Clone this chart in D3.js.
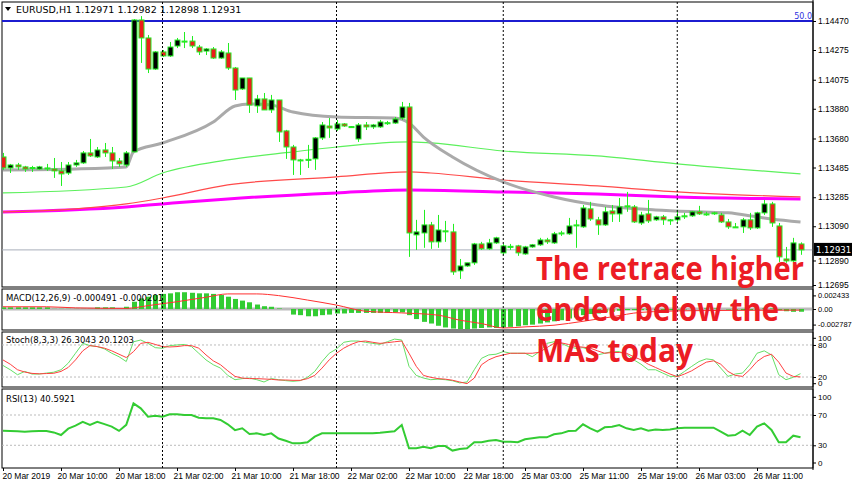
<!DOCTYPE html>
<html>
<head>
<meta charset="utf-8">
<script src="https://cdn.jsdelivr.net/npm/d3@7"></script>
<style>
  body { margin: 0; background: #fff; }
  svg { display: block; font-family: "DejaVu Sans", sans-serif; }
</style>
</head>
<body>
<svg id="chart" width="852" height="485"></svg>
<script>
// EURUSD H1, bars 20 Mar 02:00 .. 26 Mar 16:00
const opens = [1.13556,1.13482,1.13502,1.13489,1.13482,1.13475,1.13482,1.13475,1.13462,1.13448,1.13502,1.13516,1.13583,1.13556,1.13603,1.13583,1.13529,1.13502,1.13590,1.14477,
  1.14356,1.14147,1.14262,1.14235,1.14302,1.14335,1.14335,1.14295,1.14268,1.14282,1.14221,1.14255,1.14154,1.14013,1.14087,1.13899,1.13946,1.13872,1.13939,1.13731,
  1.13623,1.13536,1.13536,1.13543,1.13684,1.13764,1.13744,1.13778,1.13758,1.13677,1.13771,1.13758,1.13758,1.13784,1.13784,1.13818,1.13892,1.13032,1.13045,1.13099,
  1.12985,1.13059,1.13052,1.12790,1.12823,1.12844,1.12971,1.12938,1.12978,1.12911,1.12951,1.12958,1.12904,1.12951,1.12965,1.12998,1.12978,1.13045,1.13039,1.13099,
  1.13086,1.13207,1.13133,1.13099,1.13193,1.13173,1.13227,1.13220,1.13112,1.13173,1.13133,1.13153,1.13133,1.13133,1.13160,1.13160,1.13187,1.13173,1.13180,1.13166,
  1.13119,1.13086,1.13086,1.13133,1.13079,1.13180,1.13240,1.13092,1.12870,1.12857,1.12971];
const highs = [1.13583,1.13509,1.13516,1.13496,1.13496,1.13496,1.13509,1.13549,1.13522,1.13522,1.13536,1.13596,1.13677,1.13623,1.13650,1.13623,1.13549,1.13596,1.14483,1.14503,
  1.14376,1.14268,1.14275,1.14329,1.14356,1.14396,1.14369,1.14309,1.14288,1.14295,1.14275,1.14322,1.14161,1.14087,1.14087,1.13973,1.13986,1.13973,1.13939,1.13738,
  1.13637,1.13543,1.13637,1.13690,1.13791,1.13818,1.13805,1.13784,1.13764,1.13784,1.13791,1.13778,1.13805,1.13798,1.13825,1.13926,1.13919,1.13133,1.13200,1.13119,
  1.13166,1.13126,1.13106,1.12870,1.12844,1.12978,1.12985,1.13005,1.13019,1.12971,1.12971,1.12965,1.12958,1.12971,1.13012,1.13012,1.13052,1.13059,1.13146,1.13133,
  1.13233,1.13254,1.13153,1.13220,1.13233,1.13280,1.13321,1.13233,1.13187,1.13267,1.13160,1.13166,1.13139,1.13200,1.13180,1.13193,1.13227,1.13187,1.13187,1.13180,
  1.13139,1.13112,1.13146,1.13180,1.13187,1.13267,1.13254,1.13112,1.12951,1.13012,1.12982];
const lows = [1.13469,1.13448,1.13469,1.13455,1.13455,1.13469,1.13462,1.13415,1.13361,1.13435,1.13489,1.13509,1.13556,1.13549,1.13556,1.13475,1.13489,1.13489,1.13590,1.14188,
  1.14120,1.14141,1.14228,1.14228,1.14288,1.14288,1.14288,1.14241,1.14241,1.14215,1.14215,1.14141,1.13939,1.14006,1.13852,1.13852,1.13872,1.13852,1.13657,1.13543,
  1.13435,1.13435,1.13482,1.13469,1.13670,1.13684,1.13731,1.13758,1.13751,1.13657,1.13737,1.13744,1.13751,1.13771,1.13778,1.13805,1.12884,1.12931,1.12945,1.12938,
  1.12945,1.12985,1.12763,1.12736,1.12817,1.12830,1.12931,1.12931,1.12971,1.12898,1.12931,1.12891,1.12898,1.12945,1.12958,1.12971,1.12971,1.13025,1.13032,1.12945,
  1.13079,1.13126,1.13032,1.13092,1.13119,1.13119,1.13187,1.13112,1.13099,1.13112,1.13126,1.13099,1.13099,1.13119,1.13139,1.13153,1.13166,1.13160,1.13166,1.13112,
  1.13072,1.13079,1.13045,1.13065,1.13072,1.13166,1.13086,1.12850,1.12844,1.12850,1.12898];
const closes = [1.13482,1.13502,1.13489,1.13475,1.13485,1.13489,1.13480,1.13462,1.13442,1.13502,1.13516,1.13583,1.13563,1.13603,1.13583,1.13529,1.13509,1.13583,1.14477,1.14356,
  1.14147,1.14262,1.14235,1.14295,1.14342,1.14329,1.14302,1.14262,1.14282,1.14221,1.14262,1.14154,1.14006,1.14087,1.13905,1.13946,1.13872,1.13939,1.13724,1.13623,
  1.13536,1.13530,1.13540,1.13684,1.13771,1.13751,1.13778,1.13764,1.13760,1.13771,1.13758,1.13771,1.13791,1.13786,1.13811,1.13892,1.13045,1.13052,1.13099,1.12985,
  1.13065,1.13055,1.12783,1.12823,1.12844,1.12971,1.12938,1.12978,1.13012,1.12958,1.12955,1.12911,1.12951,1.12965,1.12998,1.12985,1.13039,1.13042,1.13092,1.13095,
  1.13213,1.13139,1.13099,1.13187,1.13173,1.13220,1.13223,1.13119,1.13166,1.13126,1.13153,1.13133,1.13130,1.13153,1.13157,1.13187,1.13173,1.13170,1.13178,1.13119,
  1.13086,1.13083,1.13133,1.13079,1.13180,1.13240,1.13112,1.12884,1.12857,1.12978,1.12931];

// moving averages, read at these bars
const grayMaBars = [0,10,17,18,22,29,32,34,37,40,46,54,56,58,62,69,76,82,90,96,100,104,106,110];
const grayMa = [1.13469,1.13475,1.13489,1.13590,1.13650,1.13791,1.13899,1.13912,1.13905,1.13858,1.13825,1.13818,1.13784,1.13690,1.13556,1.13388,1.13287,1.13233,1.13200,1.13187,1.13180,1.13153,1.13139,1.13119];
const greenMaBars = [0,17,22,31,40,46,56,59,69,82,93,110];
const greenMa = [1.13314,1.13354,1.13448,1.13536,1.13590,1.13623,1.13657,1.13650,1.13596,1.13563,1.13509,1.13442];
const redMaBars = [0,5,10,17,22,31,46,56,59,69,82,93,110];
const redMa = [1.13186,1.13193,1.13207,1.13240,1.13280,1.13368,1.13422,1.13455,1.13448,1.13401,1.13361,1.13321,1.13287];
const magentaMaBars = [0,17,22,31,46,56,69,82,93,110];
const magentaMa = [1.13186,1.13220,1.13240,1.13274,1.13314,1.13334,1.13321,1.13307,1.13287,1.13274];

const priceTicks = [1.14470,1.14275,1.14075,1.13880,1.13680,1.13485,1.13285,1.13090,1.12890,1.12695];
const levelPrice = 1.14470;
const lastPrice = 1.12931;

const macdHist = [0.0003,0.0003,0.0003,0.0003,0.0003,0.0003,0.0003,0.00003,0.00003,0.00003,0.00003,0.00003,0.00003,0.0003,0.0003,0.0003,0.00003,0.0004,0.0013,0.0019,
  0.0022,0.0025,0.0027,0.0028,0.0030,0.0030,0.0029,0.0028,0.0028,0.0027,0.0025,0.0022,0.0018,0.0015,0.0012,0.0008,0.0005,0.0004,0.0001,0.0000,
  -0.0010,-0.0011,-0.0013,-0.0013,-0.0011,-0.0010,-0.0008,-0.0008,-0.0007,-0.0007,-0.0007,-0.0007,-0.0007,-0.0007,-0.0006,-0.0006,-0.0011,-0.0018,-0.0023,-0.0026,
  -0.0030,-0.0033,-0.0035,-0.0036,-0.0036,-0.0035,-0.0034,-0.0033,-0.0034,-0.0033,-0.0032,-0.0031,-0.0029,-0.0028,-0.0026,-0.0024,-0.0022,-0.0020,-0.0017,-0.0015,
  -0.0011,-0.0009,-0.0008,-0.0006,-0.0005,-0.0003,-0.0002,-0.0002,-0.0002,-0.0002,-0.0002,-0.0002,-0.0002,-0.0001,-0.0001,0.0000,0.0000,0.0001,0.0001,0.0000,
  -0.0001,-0.0002,-0.0002,-0.0002,-0.0001,0.0001,0.0001,-0.0002,-0.0004,-0.0005,-0.00049];
const macdSignalBars = [0,6,10,17,20,24,28,31,35,38,42,46,50,55,60,63,66,69,72,76,80,84,88,95,110];
const macdSignal = [0.0004,0.0004,0.0002,0.0001,0.0006,0.0013,0.0021,0.0027,0.0027,0.0024,0.0016,0.0007,-0.0004,-0.0007,-0.0011,-0.0020,-0.0026,-0.0034,-0.0032,-0.0029,-0.0022,-0.0014,-0.0006,-0.0003,-0.0002];
const macdTicks = [0.002433, 0, -0.002787];

const stochMain = [41.6,33.6,24.3,30.5,25.6,25.6,27.4,29,33.6,46,64.5,83,78.8,77,72.6,64.5,58,49,86,89.3,
  83,75,73.8,78.8,80,81,77,64.5,52,43,36.7,23,15,17,18,15,10.7,17,15,13.2,
  12,13.2,19.4,30.5,49,64.5,72.6,85,87.4,87.4,85,83,81.2,86,91,89.3,40,23,18,15,
  16,15,13,9,10.7,33.6,55,61.4,62.7,67.6,64.5,64.5,64.5,58,67.6,83,86,83,77,73.8,
  75,70.7,61.4,64.5,67.6,67.6,62.7,52.2,44,33.6,33.6,27.4,21.2,21.2,30.5,40,49,54,52.2,36.7,
  21.2,25.6,27.4,43,64.5,69,61.4,24.3,15,19.4,26.3];
const stochSignal = [52,44,33.6,29.3,26.8,26,26.5,27,30.5,38,52,69,78.8,77,74,69,62.7,56.5,67.6,83,
  85,81,77,76.3,77,78.8,78.8,74,61.4,50.3,43,31.7,21.2,18,17,17,16.3,15.7,14.4,14.4,
  13.8,13.8,17,23,36.7,52.2,64.5,74,81,86,87.4,85,83,84.3,86,87.4,64.5,40,23,19.4,
  17,16,14,10.7,7.6,18,43,52.2,58,61.4,64.5,64.5,64.5,64.5,66.4,75,83,84,81,77,
  76,74,69,64.5,65.8,66,64.5,58,52.2,44,37.9,31.7,25.6,20.6,25.6,31.7,40,47.8,50.3,44,
  30.5,23,21.2,33.6,49,58.4,62.7,47.8,27.4,21.2,20.1];

const rsi = [49.3,48.8,48.4,48,48.4,48.8,49,47,43.6,52,56,61,57,61,58,54.6,49,57,85.4,78.8,
  67.8,69,67.8,71,71,70,70,66.5,65.6,65.6,63.4,57.7,50,52.4,45,45.8,43.6,45.8,39,36,
  32.6,32.6,34,41.4,45.8,45.8,45.8,45.8,45.8,45.8,45.8,45.8,46.5,47.5,48.6,56.8,26,26,28.2,26,
  29,29,23,25,26,34,34,36,37,34.8,34.8,34,37.9,39.2,40.5,40.5,44.5,45.8,48.9,49.3,
  57.7,52.4,48,53.7,54.6,56.8,52.4,50.2,52.4,49.3,51,50.2,51,52.4,53.3,53.3,53.3,53.3,53.3,48,
  42.7,43.6,49.3,43.6,54.6,59,50.2,34,34,42.7,40.59];

const separatorBars = [22, 46, 69, 93];
const dateTickBars = [0,8,16,24,32,40,48,56,64,72,80,88,96,104];
const dateTickLabels = ["20 Mar 2019","20 Mar 10:00","20 Mar 18:00","21 Mar 02:00","21 Mar 10:00","21 Mar 18:00",
  "22 Mar 02:00","22 Mar 10:00","22 Mar 18:00","25 Mar 03:00","25 Mar 11:00","25 Mar 19:00","26 Mar 03:00","26 Mar 11:00"];

const header = "EURUSD,H1  1.12971 1.12982 1.12898 1.12931";
const noteLines = ["The retrace higher", "ended below the", "MAs today"];

const svg = d3.select('#chart');
const plotL = 2, plotR = 813;
const panels = {
  main: [2, 287], macd: [289, 330], stoch: [332, 387], rsi: [389, 468]
};

const x = d3.scaleLinear().domain([0, closes.length - 1]).range([3, 800.5]);
const yP = d3.scaleLinear().domain([1.12695, 1.14470]).range([285, 21]);
const yM = d3.scaleLinear().domain([0, 0.002433]).range([309, 295.4]);
const yS = d3.scaleLinear().domain([0, 100]).range([387.7, 334.3]);
const yR = d3.scaleLinear().domain([0, 100]).range([468, 392.3]);

// panel frames
Object.values(panels).forEach(([t, b]) => {
  svg.append('rect').attr('x', plotL).attr('y', t).attr('width', plotR - plotL).attr('height', b - t)
    .attr('fill', 'none').attr('stroke', '#000').attr('stroke-width', 1);
});

function clip(id, [t, b]) {
  svg.append('clipPath').attr('id', id).append('rect')
    .attr('x', plotL).attr('y', t).attr('width', plotR - plotL).attr('height', b - t);
  return svg.append('g').attr('clip-path', `url(#${id})`);
}
const gMain = clip('cMain', panels.main);
const gMacd = clip('cMacd', panels.macd);
const gStoch = clip('cStoch', panels.stoch);
const gRsi = clip('cRsi', panels.rsi);

// period separators
separatorBars.forEach(i => {
  svg.append('line').attr('x1', x(i)).attr('x2', x(i)).attr('y1', panels.main[0]).attr('y2', panels.rsi[1])
    .attr('stroke', '#000').attr('stroke-dasharray', '2,2').attr('stroke-width', 1);
});

// level lines
gMain.append('line').attr('x1', plotL).attr('x2', plotR).attr('y1', yP(levelPrice)).attr('y2', yP(levelPrice))
  .attr('stroke', '#1c1cd0').attr('stroke-width', 2);
gMain.append('line').attr('x1', plotL).attr('x2', plotR).attr('y1', yP(lastPrice)).attr('y2', yP(lastPrice))
  .attr('stroke', '#a9aebb').attr('stroke-width', 1);

// moving averages
const maLine = d3.line().x(d => x(d[0])).y(d => yP(d[1])).curve(d3.curveMonotoneX);
[[magentaMaBars, magentaMa, '#ff00ff', 3], [redMaBars, redMa, '#ff4a4a', 1.2],
 [greenMaBars, greenMa, '#5cf05c', 1.2], [grayMaBars, grayMa, '#aaaaaa', 3]].forEach(([b, v, c, w]) => {
  gMain.append('path').datum(b.map((bi, k) => [bi, v[k]])).attr('d', maLine)
    .attr('fill', 'none').attr('stroke', c).attr('stroke-width', w);
});

// candles
const candles = gMain.selectAll('.candle').data(closes).join('g').attr('class', 'candle');
candles.append('line')
  .attr('x1', (d, i) => Math.round(x(i)) + 0.5).attr('x2', (d, i) => Math.round(x(i)) + 0.5)
  .attr('y1', (d, i) => yP(highs[i])).attr('y2', (d, i) => yP(lows[i]))
  .attr('stroke', '#22ee22').attr('stroke-width', 1);
candles.append('rect')
  .attr('x', (d, i) => Math.round(x(i)) - 2)
  .attr('y', (d, i) => Math.min(yP(opens[i]), yP(d)))
  .attr('width', 5)
  .attr('height', (d, i) => Math.max(1, Math.abs(yP(opens[i]) - yP(d))))
  .attr('fill', (d, i) => d >= opens[i] ? '#000' : '#ee1c1c')
  .attr('stroke', '#22ee22').attr('stroke-width', 1);

// MACD
gMacd.append('line').attr('x1', plotL).attr('x2', plotR).attr('y1', yM(0)).attr('y2', yM(0))
  .attr('stroke', '#bbbbbb').attr('stroke-width', 3);
gMacd.selectAll('.hbar').data(macdHist).join('rect').attr('class', 'hbar')
  .attr('x', (d, i) => Math.round(x(i)) - 2).attr('width', 5)
  .attr('y', d => Math.min(yM(0), yM(d))).attr('height', d => Math.abs(yM(d) - yM(0)))
  .attr('fill', '#33cc33');
gMacd.append('path').datum(macdSignalBars.map((b, k) => [b, macdSignal[k]]))
  .attr('d', d3.line().x(d => x(d[0])).y(d => yM(d[1])).curve(d3.curveMonotoneX))
  .attr('fill', 'none').attr('stroke', '#ff3030').attr('stroke-width', 1);

// Stochastic
[80, 20].forEach(v => gStoch.append('line').attr('x1', plotL).attr('x2', plotR).attr('y1', yS(v)).attr('y2', yS(v))
  .attr('stroke', '#bbb').attr('stroke-dasharray', '2,2'));
const sLine = d3.line().x((d, i) => x(i)).y(d => yS(d));
gStoch.append('path').datum(stochMain).attr('d', sLine).attr('fill', 'none').attr('stroke', '#66e066').attr('stroke-width', 1);
gStoch.append('path').datum(stochSignal).attr('d', sLine).attr('fill', 'none').attr('stroke', '#ff4040').attr('stroke-width', 1);

// RSI
[70, 30].forEach(v => gRsi.append('line').attr('x1', plotL).attr('x2', plotR).attr('y1', yR(v)).attr('y2', yR(v))
  .attr('stroke', '#bbb').attr('stroke-dasharray', '2,2'));
gRsi.append('path').datum(rsi).attr('d', d3.line().x((d, i) => x(i)).y(d => yR(d)))
  .attr('fill', 'none').attr('stroke', '#33cc33').attr('stroke-width', 2);

// right axes
function rightAxis(scale, ticks, fmt, size) {
  const g = svg.append('g').attr('transform', `translate(${plotR},0)`)
    .call(d3.axisRight(scale).tickValues(ticks).tickFormat(fmt).tickSize(3).tickPadding(2));
  g.select('.domain').remove();
  g.selectAll('text').attr('font-size', size).attr('fill', '#000');
  return g;
}
svg.append('line').attr('x1', plotR).attr('x2', plotR).attr('y1', 0).attr('y2', 470).attr('stroke', '#000');
const pAx = rightAxis(yP, priceTicks, d => d.toFixed(5), 8.5);
pAx.selectAll('.tick').filter(d => d === 1.12890).attr('transform', `translate(0,${yP(1.12890) + 5})`);
rightAxis(yM, macdTicks, d => d === 0 ? '0.00' : d.toFixed(6), 7.5);
const sAx = rightAxis(yS, [100, 80, 20, 0], d => d, 8);
sAx.selectAll('.tick').filter(d => d === 100).attr('transform', `translate(0,${yS(100) + 4})`);
sAx.selectAll('.tick').filter(d => d === 0).attr('transform', `translate(0,${yS(0) - 4})`);
const rAx = rightAxis(yR, [100, 70, 30, 0], d => d, 8);
rAx.selectAll('.tick').filter(d => d === 100).attr('transform', `translate(0,${yR(100) + 5})`);
rAx.selectAll('.tick').filter(d => d === 0).attr('transform', `translate(0,${yR(0) - 5})`);

// last price box, level label
svg.append('rect').attr('x', plotR + 1).attr('y', yP(lastPrice) - 7).attr('width', 38).attr('height', 13).attr('fill', '#000');
svg.append('text').attr('x', plotR + 3).attr('y', yP(lastPrice) + 3.5).attr('font-size', 8.5).attr('fill', '#fff').text(lastPrice.toFixed(5));
svg.append('text').attr('x', plotR - 1).attr('y', yP(levelPrice) - 2).attr('text-anchor', 'end')
  .attr('font-size', 8).attr('fill', '#3030e0').text('50.0');

// date axis
const dAx = svg.append('g').attr('transform', `translate(0,${panels.rsi[1]})`)
  .call(d3.axisBottom(x).tickValues(dateTickBars).tickFormat((d, k) => dateTickLabels[k]).tickSize(3).tickPadding(2));
dAx.select('.domain').remove();
dAx.selectAll('text').attr('font-size', 8.5).attr('text-anchor', 'start').attr('dx', (d, k) => k === 0 ? -1 : -4);

// panel captions
svg.append('text').attr('x', 16).attr('y', 13).attr('font-size', 9.5).text(header);
svg.append('path').attr('d', 'M5,7 L11,7 L8,11 Z').attr('fill', '#000');
svg.append('text').attr('x', 6).attr('y', 301).attr('font-size', 8.5).text('MACD(12,26,9) -0.000491 -0.000201');
svg.append('text').attr('x', 6).attr('y', 343).attr('font-size', 8.5).text('Stoch(8,3,3) 26.3043 20.1203');
svg.append('text').attr('x', 6).attr('y', 402).attr('font-size', 8.5).text('RSI(13) 40.5921');

// annotation
const noteY = [280, 321, 362];
const noteW = [268, 243, 157];
noteLines.forEach((t, k) => {
  svg.append('text').attr('x', 536).attr('y', noteY[k])
    .attr('font-family', '"Open Sans", sans-serif').attr('font-weight', 'bold').attr('font-size', 33)
    .attr('fill', '#ec1c24').attr('textLength', noteW[k]).attr('lengthAdjust', 'spacingAndGlyphs').text(t);
});
</script>
</body>
</html>
